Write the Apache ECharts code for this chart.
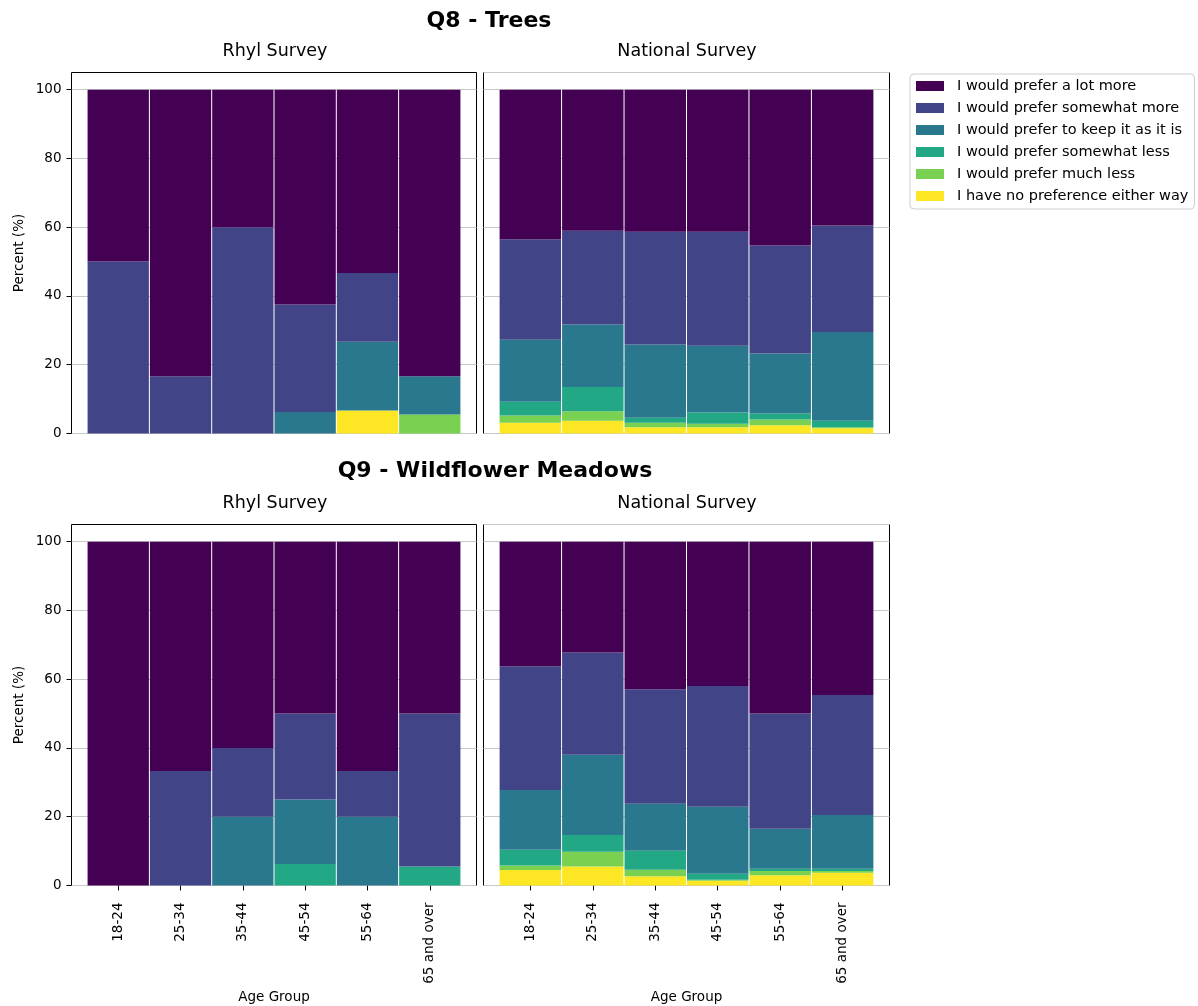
<!DOCTYPE html>
<html>
<head>
<meta charset="utf-8">
<script src="https://cdn.jsdelivr.net/npm/echarts@6/dist/echarts.min.js"></script>
<style>
  html, body { margin: 0; padding: 0; background: #fff; }
  #chart { width: 1198px; height: 1006px; }
</style>
</head>
<body>
<div id="chart"></div>
<script>
// Age groups on the x axis
const ageGroups = ['18-24', '25-34', '35-44', '45-54', '55-64', '65 and over'];

// Response categories, in legend order (top of stack first)
const responses = [
  'I would prefer a lot more',
  'I would prefer somewhat more',
  'I would prefer to keep it as it is',
  'I would prefer somewhat less',
  'I would prefer much less',
  'I have no preference either way'
];
const responseColors = ['#440154', '#414487', '#2a788e', '#22a884', '#7ad151', '#fde725'];

// Y axis tick labels
const percentTicks = [0, 20, 40, 60, 80, 100];

// Q8 - Trees, Rhyl survey (% of respondents per age group)
const q8RhylLotMore      = [50, 83.33, 40, 62.5, 53.33, 83.33];
const q8RhylSomewhatMore = [50, 16.67, 60, 31.25, 20, 0];
const q8RhylKeep         = [0, 0, 0, 6.25, 20, 11.11];
const q8RhylSomewhatLess = [0, 0, 0, 0, 0, 0];
const q8RhylMuchLess     = [0, 0, 0, 0, 0, 5.56];
const q8RhylNoPref       = [0, 0, 0, 0, 6.67, 0];

// Q8 - Trees, national survey
const q8NatLotMore      = [43.5, 41.0, 41.3, 41.3, 45.3, 39.5];
const q8NatSomewhatMore = [29.2, 27.3, 32.8, 33.2, 31.4, 31.0];
const q8NatKeep         = [18.1, 18.2, 21.3, 19.4, 17.5, 25.8];
const q8NatSomewhatLess = [4.0, 7.0, 1.5, 3.3, 1.7, 1.9];
const q8NatMuchLess     = [2.1, 2.8, 1.3, 1.0, 1.7, 0.3];
const q8NatNoPref       = [3.1, 3.7, 1.8, 1.8, 2.4, 1.5];

// Q9 - Wildflower Meadows, Rhyl survey
const q9RhylLotMore      = [100, 66.67, 60, 50, 66.67, 50];
const q9RhylSomewhatMore = [0, 33.33, 20, 25, 13.33, 44.44];
const q9RhylKeep         = [0, 0, 20, 18.75, 20, 0];
const q9RhylSomewhatLess = [0, 0, 0, 6.25, 0, 5.56];
const q9RhylMuchLess     = [0, 0, 0, 0, 0, 0];
const q9RhylNoPref       = [0, 0, 0, 0, 0, 0];

// Q9 - Wildflower Meadows, national survey
const q9NatLotMore      = [36.2, 32.2, 42.9, 42.0, 50.0, 44.6];
const q9NatSomewhatMore = [36.0, 29.8, 33.3, 35.1, 33.5, 34.9];
const q9NatKeep         = [17.4, 23.3, 13.7, 19.5, 11.6, 15.6];
const q9NatSomewhatLess = [4.6, 4.9, 5.5, 1.7, 0.7, 0.7];
const q9NatMuchLess     = [1.3, 4.3, 1.9, 0.3, 1.2, 0.5];
const q9NatNoPref       = [4.5, 5.5, 2.7, 1.4, 3.0, 3.7];

// One entry per panel (Q8 Rhyl, Q8 national, Q9 Rhyl, Q9 national), responses in legend order
const panels = [
  [q8RhylLotMore, q8RhylSomewhatMore, q8RhylKeep, q8RhylSomewhatLess, q8RhylMuchLess, q8RhylNoPref],
  [q8NatLotMore, q8NatSomewhatMore, q8NatKeep, q8NatSomewhatLess, q8NatMuchLess, q8NatNoPref],
  [q9RhylLotMore, q9RhylSomewhatMore, q9RhylKeep, q9RhylSomewhatLess, q9RhylMuchLess, q9RhylNoPref],
  [q9NatLotMore, q9NatSomewhatMore, q9NatKeep, q9NatSomewhatLess, q9NatMuchLess, q9NatNoPref]
];

const FONT = 'DejaVu Sans';
const catIdx = ageGroups.map((_, i) => i);

// Half-pixel offsets keep the 1px panel frames crisp
const gridBoxes = [
  { left: 71.5,  top: 72.5,  width: 405, height: 361 },
  { left: 483.5, top: 72.5,  width: 406, height: 361 },
  { left: 71.5,  top: 524.5, width: 405, height: 361 },
  { left: 483.5, top: 524.5, width: 406, height: 361 }
];

const grids = gridBoxes.map(b => Object.assign({
  show: true, borderColor: '#000', borderWidth: 1, backgroundColor: 'transparent',
  containLabel: false
}, b));

// Value-type x axis so the frame keeps a margin either side of the bars
const xAxes = gridBoxes.map((b, gi) => {
  const bottom = gi >= 2;
  return {
    type: 'value', gridIndex: gi, min: -0.75, max: 5.75,
    splitLine: { show: false },
    axisLine: { show: false, onZero: false },
    axisTick: bottom ? { show: true, customValues: catIdx, length: 5, inside: false,
                          lineStyle: { color: '#000', width: 1 } } : { show: false },
    axisLabel: bottom ? {
      show: true, customValues: catIdx, rotate: 90, margin: 17,
      formatter: v => ageGroups[Math.round(v)],
      fontFamily: FONT, fontSize: 13.5, color: '#000'
    } : { show: false },
    name: bottom ? 'Age Group' : '',
    nameLocation: 'middle', nameGap: 105,
    nameTextStyle: { fontFamily: FONT, fontSize: 13.5, color: '#000' }
  };
});

const yAxes = gridBoxes.map((b, gi) => {
  const left = gi % 2 === 0;
  return {
    type: 'value', gridIndex: gi, min: 0, max: 105, interval: 20,
    splitLine: { show: true, lineStyle: { color: '#c8c8c8', width: 1 } },
    axisLine: { show: false, onZero: false },
    axisTick: left ? { show: true, customValues: percentTicks, length: 5,
                       lineStyle: { color: '#000', width: 1 } } : { show: false },
    axisLabel: left ? {
      show: true, customValues: percentTicks, margin: 10,
      fontFamily: FONT, fontSize: 13.5, color: '#000'
    } : { show: false },
    name: left ? 'Percent (%)' : '',
    nameLocation: 'middle', nameGap: 45,
    nameTextStyle: { fontFamily: FONT, fontSize: 13.5, color: '#000' }
  };
});

// Stack from the bottom: "no preference" first, "a lot more" last.
// Data rows are [percent, ageIndex] so the percent column is the stacked one.
const series = [];
panels.forEach((vals, gi) => {
  for (let r = responses.length - 1; r >= 0; r--) {
    series.push({
      type: 'bar',
      name: responses[r],
      xAxisIndex: gi, yAxisIndex: gi,
      stack: 'panel' + gi,
      barWidth: '98.4%',
      encode: { x: 1, y: 0 },
      itemStyle: { color: responseColors[r] },
      emphasis: { disabled: true },
      data: vals[r].map((v, i) => [v, i])
    });
  }
});

const titleText = (text, x, top, size, weight) => ({
  text, left: x, top, textAlign: 'center', padding: 0,
  textStyle: { fontFamily: FONT, fontSize: size, fontWeight: weight, color: '#000' }
});

const option = {
  animation: false,
  backgroundColor: '#fff',
  title: [
    titleText('Q8 - Trees', 489, 10, 22, 'bold'),
    titleText('Rhyl Survey', 275, 42, 17.5, 'normal'),
    titleText('National Survey', 687, 42, 17.5, 'normal'),
    titleText('Q9 - Wildflower Meadows', 495, 460, 22, 'bold'),
    titleText('Rhyl Survey', 275, 494, 17.5, 'normal'),
    titleText('National Survey', 687, 494, 17.5, 'normal')
  ],
  legend: {
    data: responses.map(n => ({ name: n, icon: 'rect' })),
    orient: 'vertical',
    left: 910, top: 74,
    itemWidth: 28, itemHeight: 10, itemGap: 6,
    padding: [4, 6, 5, 6],
    borderColor: '#cccccc', borderWidth: 1, borderRadius: 4,
    backgroundColor: '#fff',
    selectedMode: false,
    textStyle: { fontFamily: FONT, fontSize: 14.5, color: '#000', lineHeight: 16, padding: [0, 0, 0, 8] }
  },
  grid: grids,
  xAxis: xAxes,
  yAxis: yAxes,
  series
};

const chart = echarts.init(document.getElementById('chart'), null, { renderer: 'canvas' });
chart.setOption(option);
</script>
</body>
</html>
